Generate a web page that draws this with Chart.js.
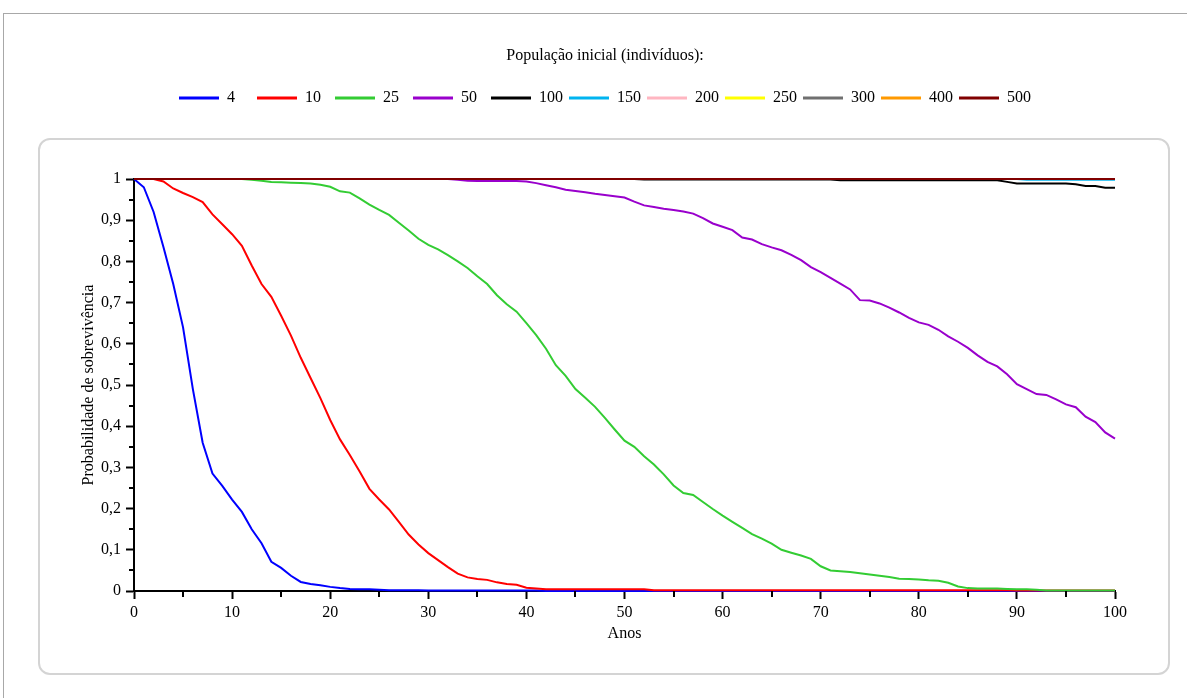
<!DOCTYPE html>
<html>
<head>
<meta charset="utf-8">
<title>Probabilidade de sobrevivência</title>
<script src="https://cdn.jsdelivr.net/npm/chart.js@4/dist/chart.umd.min.js"></script>
<style>
  html, body { margin: 0; padding: 0; background: #fff; }
  body { width: 1187px; height: 698px; position: relative; overflow: hidden; }
  #frame { position: absolute; left: 3px; top: 13px; right: 0; bottom: 0; border-top: 1px solid #a8a8a8; border-left: 1px solid #a8a8a8; }
  #panel { position: absolute; left: 38px; top: 138px; width: 1128px; height: 533px; border: 2px solid #d4d4d4; border-radius: 12px; }
  canvas { position: absolute; left: 0; top: 0; }
</style>
</head>
<body>
<div id="frame"></div>
<div id="panel"></div>
<canvas id="chart" width="1187" height="698"></canvas>
<script>
// anos 0..100 (eixo x)
const years = Array.from({ length: 101 }, (_, i) => i);

const populations = ['4', '10', '25', '50', '100', '150', '200', '250', '300', '400', '500'];
const colors = ['#0000ff', '#ff0000', '#33cc33', '#9900cc', '#000000', '#00b4f0',
                '#ffb6c1', '#ffff00', '#707070', '#ff9900', '#800000'];

// probabilidade de sobrevivencia, um valor por ano
const surv4 = [
  1, 0.98, 0.92, 0.835, 0.745, 0.64, 0.49, 0.36, 0.285, 0.255,
  0.222, 0.192, 0.15, 0.116, 0.071, 0.056, 0.037, 0.022, 0.017, 0.014,
  0.01, 0.007, 0.005, 0.004, 0.004, 0.003, 0.002, 0.002, 0.002, 0.002,
  0.001, 0.001, 0.001, 0.001, 0.001, 0.001, 0.001, 0.001, 0.001, 0.001,
  0.001, 0.001, 0, 0, 0, 0, 0, 0, 0, 0,
  0, 0, 0, 0, 0, 0, 0, 0, 0, 0,
  0, 0, 0, 0, 0, 0, 0, 0, 0, 0,
  0, 0, 0, 0, 0, 0, 0, 0, 0, 0,
  0, 0, 0, 0, 0, 0, 0, 0, 0, 0,
  0, 0, 0, 0, 0, 0, 0, 0, 0, 0,
  0
];
const surv10 = [
  1, 1, 1, 0.994, 0.977, 0.966, 0.956, 0.944, 0.914, 0.89,
  0.866, 0.838, 0.79, 0.745, 0.714, 0.668, 0.62, 0.566, 0.517, 0.468,
  0.415, 0.368, 0.33, 0.29, 0.248, 0.222, 0.198, 0.168, 0.137, 0.113,
  0.092, 0.075, 0.058, 0.042, 0.033, 0.029, 0.027, 0.021, 0.017, 0.015,
  0.008, 0.006, 0.004, 0.004, 0.004, 0.004, 0.004, 0.004, 0.004, 0.004,
  0.004, 0.004, 0.004, 0.002, 0.002, 0.002, 0.002, 0.002, 0.002, 0.002,
  0.002, 0.002, 0.002, 0.002, 0.002, 0.002, 0.002, 0.002, 0.002, 0.002,
  0.002, 0.002, 0.002, 0.002, 0.002, 0.002, 0.002, 0.002, 0.002, 0.002,
  0.002, 0.002, 0.002, 0.002, 0.002, 0.002, 0.002, 0.002, 0.002, 0.002,
  0.001, 0.001, 0.001, 0.001, 0.001, 0.001, 0.001, 0.001, 0.001, 0.001,
  0.001
];
const surv25 = [
  1, 1, 1, 1, 1, 1, 1, 1, 1, 1,
  1, 1, 0.998, 0.996, 0.993, 0.992, 0.991, 0.99, 0.989, 0.986,
  0.981, 0.97, 0.967, 0.953, 0.938, 0.925, 0.913, 0.894, 0.875, 0.855,
  0.84, 0.829, 0.815, 0.8, 0.784, 0.764, 0.745, 0.718, 0.696, 0.678,
  0.65, 0.621, 0.588, 0.548, 0.522, 0.49, 0.469, 0.447, 0.42, 0.392,
  0.365, 0.35, 0.327, 0.307, 0.283, 0.256, 0.238, 0.233, 0.216, 0.199,
  0.183, 0.168, 0.153, 0.138, 0.127, 0.115, 0.1, 0.093, 0.086, 0.078,
  0.06, 0.05, 0.048, 0.046, 0.043, 0.04, 0.037, 0.034, 0.03, 0.029,
  0.028, 0.026, 0.025, 0.02, 0.011, 0.007, 0.006, 0.006, 0.006, 0.005,
  0.004, 0.004, 0.003, 0.001, 0.001, 0.001, 0.001, 0.001, 0.001, 0.001,
  0.001
];
const surv50 = [
  1, 1, 1, 1, 1, 1, 1, 1, 1, 1,
  1, 1, 1, 1, 1, 1, 1, 1, 1, 1,
  1, 1, 1, 1, 1, 1, 1, 1, 1, 1,
  1, 1, 1, 0.998, 0.996, 0.995, 0.995, 0.995, 0.995, 0.995,
  0.994, 0.99, 0.985, 0.98, 0.974, 0.971, 0.968, 0.964, 0.961, 0.958,
  0.955, 0.945, 0.936, 0.932, 0.928, 0.925, 0.921, 0.916, 0.905, 0.892,
  0.884, 0.876, 0.858, 0.853, 0.842, 0.834, 0.827, 0.816, 0.803, 0.786,
  0.774, 0.76, 0.746, 0.732, 0.706, 0.705, 0.698, 0.688, 0.676, 0.663,
  0.652, 0.646, 0.634, 0.618, 0.605, 0.59, 0.572, 0.556, 0.545, 0.526,
  0.502, 0.49, 0.478, 0.476, 0.465, 0.453, 0.446, 0.423, 0.41, 0.385,
  0.37
];
const surv100 = [
  1, 1, 1, 1, 1, 1, 1, 1, 1, 1,
  1, 1, 1, 1, 1, 1, 1, 1, 1, 1,
  1, 1, 1, 1, 1, 1, 1, 1, 1, 1,
  1, 1, 1, 1, 1, 1, 1, 1, 1, 1,
  1, 1, 1, 1, 1, 1, 1, 1, 1, 1,
  1, 1, 0.999, 0.999, 0.999, 0.999, 0.999, 0.999, 0.999, 0.999,
  0.999, 0.999, 0.999, 0.999, 0.999, 0.999, 0.999, 0.999, 0.999, 0.999,
  0.999, 0.999, 0.997, 0.997, 0.997, 0.997, 0.997, 0.997, 0.997, 0.997,
  0.997, 0.997, 0.997, 0.997, 0.997, 0.997, 0.997, 0.997, 0.997, 0.993,
  0.989, 0.989, 0.989, 0.989, 0.989, 0.989, 0.987, 0.983, 0.983, 0.979,
  0.979
];
const surv150 = [
  1, 1, 1, 1, 1, 1, 1, 1, 1, 1,
  1, 1, 1, 1, 1, 1, 1, 1, 1, 1,
  1, 1, 1, 1, 1, 1, 1, 1, 1, 1,
  1, 1, 1, 1, 1, 1, 1, 1, 1, 1,
  1, 1, 1, 1, 1, 1, 1, 1, 1, 1,
  1, 1, 1, 1, 1, 1, 1, 1, 1, 1,
  1, 1, 1, 1, 1, 1, 1, 1, 1, 1,
  1, 1, 1, 1, 1, 1, 1, 1, 1, 1,
  1, 1, 1, 1, 1, 1, 1, 1, 1, 1,
  1, 0.998, 0.998, 0.998, 0.998, 0.998, 0.998, 0.998, 0.998, 0.998,
  0.998
];
const surv200 = [
  1, 1, 1, 1, 1, 1, 1, 1, 1, 1, 1, 1, 1, 1, 1, 1, 1, 1, 1, 1,
  1, 1, 1, 1, 1, 1, 1, 1, 1, 1, 1, 1, 1, 1, 1, 1, 1, 1, 1, 1,
  1, 1, 1, 1, 1, 1, 1, 1, 1, 1, 1, 1, 1, 1, 1, 1, 1, 1, 1, 1,
  1, 1, 1, 1, 1, 1, 1, 1, 1, 1, 1, 1, 1, 1, 1, 1, 1, 1, 1, 1,
  1, 1, 1, 1, 1, 1, 1, 1, 1, 1, 1, 1, 1, 1, 1, 1, 1, 1, 1, 1,
  1
];
const surv250 = [
  1, 1, 1, 1, 1, 1, 1, 1, 1, 1, 1, 1, 1, 1, 1, 1, 1, 1, 1, 1,
  1, 1, 1, 1, 1, 1, 1, 1, 1, 1, 1, 1, 1, 1, 1, 1, 1, 1, 1, 1,
  1, 1, 1, 1, 1, 1, 1, 1, 1, 1, 1, 1, 1, 1, 1, 1, 1, 1, 1, 1,
  1, 1, 1, 1, 1, 1, 1, 1, 1, 1, 1, 1, 1, 1, 1, 1, 1, 1, 1, 1,
  1, 1, 1, 1, 1, 1, 1, 1, 1, 1, 1, 1, 1, 1, 1, 1, 1, 1, 1, 1,
  1
];
const surv300 = [
  1, 1, 1, 1, 1, 1, 1, 1, 1, 1, 1, 1, 1, 1, 1, 1, 1, 1, 1, 1,
  1, 1, 1, 1, 1, 1, 1, 1, 1, 1, 1, 1, 1, 1, 1, 1, 1, 1, 1, 1,
  1, 1, 1, 1, 1, 1, 1, 1, 1, 1, 1, 1, 1, 1, 1, 1, 1, 1, 1, 1,
  1, 1, 1, 1, 1, 1, 1, 1, 1, 1, 1, 1, 1, 1, 1, 1, 1, 1, 1, 1,
  1, 1, 1, 1, 1, 1, 1, 1, 1, 1, 1, 1, 1, 1, 1, 1, 1, 1, 1, 1,
  1
];
const surv400 = [
  1, 1, 1, 1, 1, 1, 1, 1, 1, 1, 1, 1, 1, 1, 1, 1, 1, 1, 1, 1,
  1, 1, 1, 1, 1, 1, 1, 1, 1, 1, 1, 1, 1, 1, 1, 1, 1, 1, 1, 1,
  1, 1, 1, 1, 1, 1, 1, 1, 1, 1, 1, 1, 1, 1, 1, 1, 1, 1, 1, 1,
  1, 1, 1, 1, 1, 1, 1, 1, 1, 1, 1, 1, 1, 1, 1, 1, 1, 1, 1, 1,
  1, 1, 1, 1, 1, 1, 1, 1, 1, 1, 1, 1, 1, 1, 1, 1, 1, 1, 1, 1,
  1
];
const surv500 = [
  1, 1, 1, 1, 1, 1, 1, 1, 1, 1, 1, 1, 1, 1, 1, 1, 1, 1, 1, 1,
  1, 1, 1, 1, 1, 1, 1, 1, 1, 1, 1, 1, 1, 1, 1, 1, 1, 1, 1, 1,
  1, 1, 1, 1, 1, 1, 1, 1, 1, 1, 1, 1, 1, 1, 1, 1, 1, 1, 1, 1,
  1, 1, 1, 1, 1, 1, 1, 1, 1, 1, 1, 1, 1, 1, 1, 1, 1, 1, 1, 1,
  1, 1, 1, 1, 1, 1, 1, 1, 1, 1, 1, 1, 1, 1, 1, 1, 1, 1, 1, 1,
  1
];

const series = [surv4, surv10, surv25, surv50, surv100, surv150, surv200, surv250, surv300, surv400, surv500];

Chart.defaults.font.family = "'Liberation Serif', 'Times New Roman', serif";
Chart.defaults.font.size = 16;
Chart.defaults.color = '#000';

const isMajorX = v => Math.round(v) % 10 === 0;
const isMajorY = v => Math.round(v * 100) % 10 === 0;

// tracinhos menores (5 em 5 anos, 0,05) mais curtos que os principais
const minorTicks = {
  id: 'minorTicks',
  afterDraw(chart) {
    const { ctx } = chart;
    const x = chart.scales.x, y = chart.scales.y;
    ctx.save();
    ctx.strokeStyle = '#000';
    ctx.lineWidth = 2;
    ctx.beginPath();
    x.ticks.forEach(t => {
      if (isMajorX(t.value)) return;
      const px = Math.round(x.getPixelForValue(t.value));
      ctx.moveTo(px, x.top);
      ctx.lineTo(px, x.top + 6);
    });
    y.ticks.forEach(t => {
      if (isMajorY(t.value)) return;
      const py = Math.round(y.getPixelForValue(t.value));
      ctx.moveTo(y.right - 5, py);
      ctx.lineTo(y.right, py);
    });
    ctx.stroke();
    ctx.restore();
  }
};

new Chart(document.getElementById('chart').getContext('2d'), {
  type: 'line',
  data: {
    labels: years,
    datasets: series.map((values, i) => ({
      label: populations[i],
      data: values,
      borderColor: colors[i],
      backgroundColor: colors[i],
      borderWidth: 2,
      pointRadius: 0,
      tension: 0,
      fill: false,
      clip: 4,
      order: series.length - i
    }))
  },
  options: {
    responsive: false,
    animation: false,
    devicePixelRatio: 1,
    layout: { padding: { top: 0, left: 40, right: 17, bottom: 0 } },
    plugins: {
      title: {
        display: true,
        text: 'População inicial (indivíduos):',
        color: '#000',
        font: { size: 16, weight: 'normal' },
        padding: { top: 46.4, bottom: 18.4 }
      },
      legend: {
        display: true,
        position: 'top',
        labels: {
          boxWidth: 40,
          boxHeight: 3,
          padding: 6,
          color: '#000',
          font: { size: 16 },
          sort: (a, b) => a.datasetIndex - b.datasetIndex,
          generateLabels(chart) {
            const items = Chart.defaults.plugins.legend.labels.generateLabels(chart);
            items.forEach(it => {
              it.lineWidth = 0;
              it.text = it.text + ' '.repeat(2 * (3 - it.text.length));
            });
            return items;
          }
        }
      },
      subtitle: {
        display: true,
        text: '',
        weight: 500,
        font: { size: 10 },
        padding: { top: 0, bottom: 51 }
      },
      tooltip: { enabled: false }
    },
    scales: {
      x: {
        type: 'linear',
        min: 0,
        max: 100,
        afterFit: s => { s.height = 107; },
        border: { display: true, color: '#000', width: 2 },
        grid: {
          drawOnChartArea: false,
          tickLength: 8,
          tickWidth: 2,
          tickColor: c => isMajorX(c.tick.value) ? '#000' : 'rgba(0,0,0,0)'
        },
        ticks: {
          stepSize: 5,
          autoSkip: false,
          maxRotation: 0,
          padding: 4,
          color: '#000',
          callback: v => isMajorX(v) ? String(v) : ''
        },
        title: {
          display: true,
          text: 'Anos',
          color: '#000',
          font: { size: 16 },
          padding: { top: 0, bottom: 54.4 }
        }
      },
      y: {
        min: 0,
        max: 1,
        afterFit: s => { s.width = 94; },
        border: { display: true, color: '#000', width: 2 },
        grid: {
          drawOnChartArea: false,
          tickLength: 8,
          tickWidth: 2,
          tickColor: c => isMajorY(c.tick.value) ? '#000' : 'rgba(0,0,0,0)'
        },
        ticks: {
          stepSize: 0.05,
          autoSkip: false,
          padding: 5,
          color: '#000',
          callback: v => isMajorY(v) ? String(Math.round(v * 10) / 10).replace('.', ',') : ''
        },
        title: {
          display: true,
          text: 'Probabilidade de sobrevivência',
          color: '#000',
          font: { size: 16 },
          padding: { top: 39, bottom: 0 }
        }
      },
      y2: {
        type: 'linear',
        position: 'right',
        display: true,
        grid: { display: false },
        border: { display: false },
        ticks: { display: false },
        afterFit: s => { s.width = 55; }
      }
    }
  },
  plugins: [minorTicks]
});
</script>
</body>
</html>
